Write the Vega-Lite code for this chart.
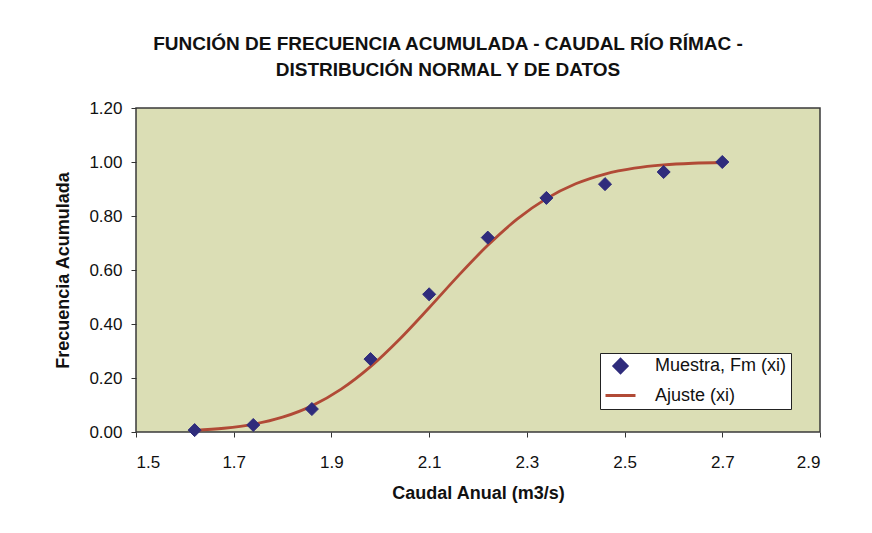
{
  "$schema": "https://vega.github.io/schema/vega-lite/v6.json",
  "autosize": {"type": "none"},
  "width": 684,
  "height": 324,
  "padding": {"left": 136, "top": 108, "right": 52, "bottom": 101},
  "background": "white",
  "config": {
    "font": "Liberation Sans",
    "view": {"fill": "#dbdeb5", "stroke": "#3a3a3a", "strokeWidth": 1.5},
    "legend": {
      "title": null,
      "orient": "none",
      "legendX": 464,
      "legendY": 245,
      "fillColor": "white",
      "strokeColor": "#222",
      "padding": 4,
      "rowPadding": 0,
      "labelFont": "Liberation Sans",
      "labelFontSize": 18,
      "labelColor": "#111",
      "labelOffset": 18,
      "symbolStrokeWidth": 3,
      "symbolOpacity": 1
    }
  },
  "title": {
    "text": ["FUNCIÓN DE FRECUENCIA ACUMULADA - CAUDAL RÍO RÍMAC -", "DISTRIBUCIÓN NORMAL Y DE DATOS"],
    "font": "Liberation Sans",
    "fontSize": 19,
    "fontWeight": "bold",
    "color": "#111",
    "anchor": "middle",
    "dx": -30,
    "offset": 19,
    "lineHeight": 26
  },
  "datasets": {
    "muestra": [
      {"x": 1.62, "y": 0.007, "serie": "Muestra, Fm (xi)"},
      {"x": 1.74, "y": 0.026, "serie": "Muestra, Fm (xi)"},
      {"x": 1.86, "y": 0.085, "serie": "Muestra, Fm (xi)"},
      {"x": 1.98, "y": 0.27, "serie": "Muestra, Fm (xi)"},
      {"x": 2.10, "y": 0.51, "serie": "Muestra, Fm (xi)"},
      {"x": 2.22, "y": 0.72, "serie": "Muestra, Fm (xi)"},
      {"x": 2.34, "y": 0.867, "serie": "Muestra, Fm (xi)"},
      {"x": 2.46, "y": 0.918, "serie": "Muestra, Fm (xi)"},
      {"x": 2.58, "y": 0.963, "serie": "Muestra, Fm (xi)"},
      {"x": 2.70, "y": 1.0, "serie": "Muestra, Fm (xi)"}
    ],
    "ajuste": [
      {"x": 1.62, "y": 0.0062, "serie": "Ajuste (xi)"},
      {"x": 1.68, "y": 0.0139, "serie": "Ajuste (xi)"},
      {"x": 1.74, "y": 0.0287, "serie": "Ajuste (xi)"},
      {"x": 1.80, "y": 0.0548, "serie": "Ajuste (xi)"},
      {"x": 1.86, "y": 0.0968, "serie": "Ajuste (xi)"},
      {"x": 1.92, "y": 0.1587, "serie": "Ajuste (xi)"},
      {"x": 1.98, "y": 0.2420, "serie": "Ajuste (xi)"},
      {"x": 2.04, "y": 0.3446, "serie": "Ajuste (xi)"},
      {"x": 2.10, "y": 0.4602, "serie": "Ajuste (xi)"},
      {"x": 2.16, "y": 0.5793, "serie": "Ajuste (xi)"},
      {"x": 2.22, "y": 0.6915, "serie": "Ajuste (xi)"},
      {"x": 2.28, "y": 0.7881, "serie": "Ajuste (xi)"},
      {"x": 2.34, "y": 0.8643, "serie": "Ajuste (xi)"},
      {"x": 2.40, "y": 0.9192, "serie": "Ajuste (xi)"},
      {"x": 2.46, "y": 0.9554, "serie": "Ajuste (xi)"},
      {"x": 2.52, "y": 0.9772, "serie": "Ajuste (xi)"},
      {"x": 2.58, "y": 0.9893, "serie": "Ajuste (xi)"},
      {"x": 2.64, "y": 0.9953, "serie": "Ajuste (xi)"},
      {"x": 2.70, "y": 0.9981, "serie": "Ajuste (xi)"}
    ]
  },
  "encoding": {
    "x": {
      "field": "x", "type": "quantitative",
      "scale": {"domain": [1.5, 2.9], "nice": false, "zero": false},
      "axis": {
        "values": [1.5, 1.7, 1.9, 2.1, 2.3, 2.5, 2.7, 2.9],
        "format": ".1f",
        "title": "Caudal Anual (m3/s)",
        "grid": false,
        "domain": false,
        "tickColor": "#333", "tickSize": 5, "tickWidth": 1,
        "labelFont": "Liberation Sans", "labelFontSize": 17, "labelColor": "#111", "labelPadding": 17,
        "titleFont": "Liberation Sans", "titleFontSize": 18, "titleFontWeight": "bold", "titleColor": "#111", "titlePadding": 14
      }
    },
    "y": {
      "field": "y", "type": "quantitative",
      "scale": {"domain": [0, 1.2], "nice": false},
      "axis": {
        "values": [0, 0.2, 0.4, 0.6, 0.8, 1.0, 1.2],
        "format": ".2f",
        "title": "Frecuencia Acumulada",
        "grid": false,
        "domain": false,
        "tickColor": "#333", "tickSize": 5, "tickWidth": 1,
        "labelFont": "Liberation Sans", "labelFontSize": 17, "labelColor": "#111", "labelPadding": 9,
        "titleFont": "Liberation Sans", "titleFontSize": 18, "titleFontWeight": "bold", "titleColor": "#111", "titlePadding": 16
      }
    },
    "stroke": {
      "field": "serie", "type": "nominal",
      "scale": {"domain": ["Muestra, Fm (xi)", "Ajuste (xi)"], "range": ["#2f2c7c", "#b14a36"]}
    }
  },
  "layer": [
    {
      "data": {"name": "ajuste"},
      "mark": {"type": "line", "interpolate": "monotone", "strokeWidth": 2.8}
    },
    {
      "data": {"name": "muestra"},
      "mark": {"type": "point", "strokeWidth": 1, "opacity": 1},
      "encoding": {
        "fill": {
          "field": "serie", "type": "nominal",
          "scale": {"domain": ["Muestra, Fm (xi)", "Ajuste (xi)"], "range": ["#2f2c7c", "#b14a36"]}
        },
        "shape": {
          "field": "serie", "type": "nominal",
          "scale": {"domain": ["Muestra, Fm (xi)", "Ajuste (xi)"], "range": ["diamond", "stroke"]}
        },
        "size": {
          "field": "serie", "type": "nominal",
          "scale": {"domain": ["Muestra, Fm (xi)", "Ajuste (xi)"], "range": [170, 900]}
        }
      }
    }
  ]
}
